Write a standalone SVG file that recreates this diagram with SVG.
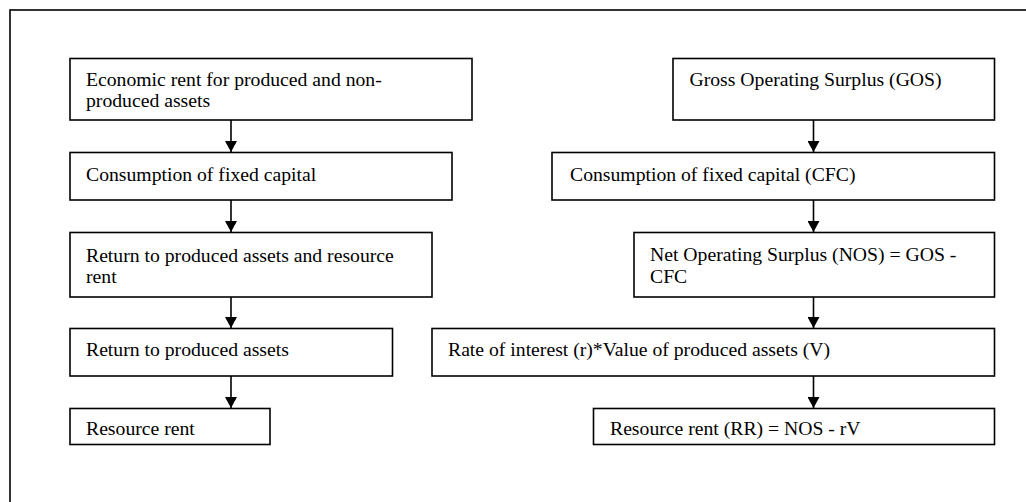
<svg xmlns="http://www.w3.org/2000/svg" width="1026" height="502" viewBox="0 0 1026 502">
<style>
.box{fill:#fff;stroke:#000;stroke-width:1.6}
.t{font-family:"Liberation Serif","Times New Roman",serif;font-size:19.7px;fill:#000}
.c{stroke:#000;stroke-width:1.6;fill:none}
</style>
<defs>
<marker id="ah" markerUnits="userSpaceOnUse" markerWidth="13" markerHeight="12" refX="11" refY="6" orient="auto">
<path d="M0,0 L11,6 L0,12 Z" fill="#000"/>
</marker>
</defs>
<rect x="0" y="0" width="1026" height="502" fill="#fff"/>
<rect x="10" y="10" width="1040" height="520" fill="none" stroke="#000" stroke-width="1.6"/>
<g id="connectors">
<line class="c" x1="231" y1="120" x2="231" y2="152" marker-end="url(#ah)"/>
<line class="c" x1="231" y1="200" x2="231" y2="232" marker-end="url(#ah)"/>
<line class="c" x1="231" y1="297" x2="231" y2="328" marker-end="url(#ah)"/>
<line class="c" x1="231" y1="376" x2="231" y2="408" marker-end="url(#ah)"/>
<line class="c" x1="813.5" y1="120" x2="813.5" y2="152" marker-end="url(#ah)"/>
<line class="c" x1="813.5" y1="200" x2="813.5" y2="232" marker-end="url(#ah)"/>
<line class="c" x1="813.5" y1="297" x2="813.5" y2="328" marker-end="url(#ah)"/>
<line class="c" x1="813.5" y1="376" x2="813.5" y2="408" marker-end="url(#ah)"/>
</g>
<g id="n1"><rect class="box" x="70" y="58.5" width="402" height="61.5"/>
<text class="t" x="86" y="86">Economic rent for produced and non-</text>
<text class="t" x="86" y="107">produced assets</text></g>
<g id="n2"><rect class="box" x="70" y="152.5" width="382" height="47.5"/>
<text class="t" x="86" y="181">Consumption of fixed capital</text></g>
<g id="n3"><rect class="box" x="70" y="232.5" width="362" height="64.5"/>
<text class="t" x="86" y="262">Return to produced assets and resource</text>
<text class="t" x="86" y="283">rent</text></g>
<g id="n4"><rect class="box" x="70" y="328.5" width="322.5" height="47.5"/>
<text class="t" x="86" y="356">Return to produced assets</text></g>
<g id="n5"><rect class="box" x="70" y="408.5" width="200" height="36"/>
<text class="t" x="86" y="435">Resource rent</text></g>
<g id="n6"><rect class="box" x="673" y="58.5" width="321.5" height="61.5"/>
<text class="t" x="689.5" y="86">Gross Operating Surplus (GOS)</text></g>
<g id="n7"><rect class="box" x="552" y="152.5" width="442.5" height="47.5"/>
<text class="t" x="570" y="181">Consumption of fixed capital (CFC)</text></g>
<g id="n8"><rect class="box" x="634" y="232.5" width="360.5" height="64.5"/>
<text class="t" x="650" y="261">Net Operating Surplus (NOS) = GOS -</text>
<text class="t" x="650" y="283">CFC</text></g>
<g id="n9"><rect class="box" x="432" y="328.5" width="562.5" height="47.5"/>
<text class="t" x="448" y="356">Rate of interest (r)*Value of produced assets (V)</text></g>
<g id="n10"><rect class="box" x="593.5" y="408.5" width="401" height="36"/>
<text class="t" x="610" y="435">Resource rent (RR) = NOS - rV</text></g>
</svg>
